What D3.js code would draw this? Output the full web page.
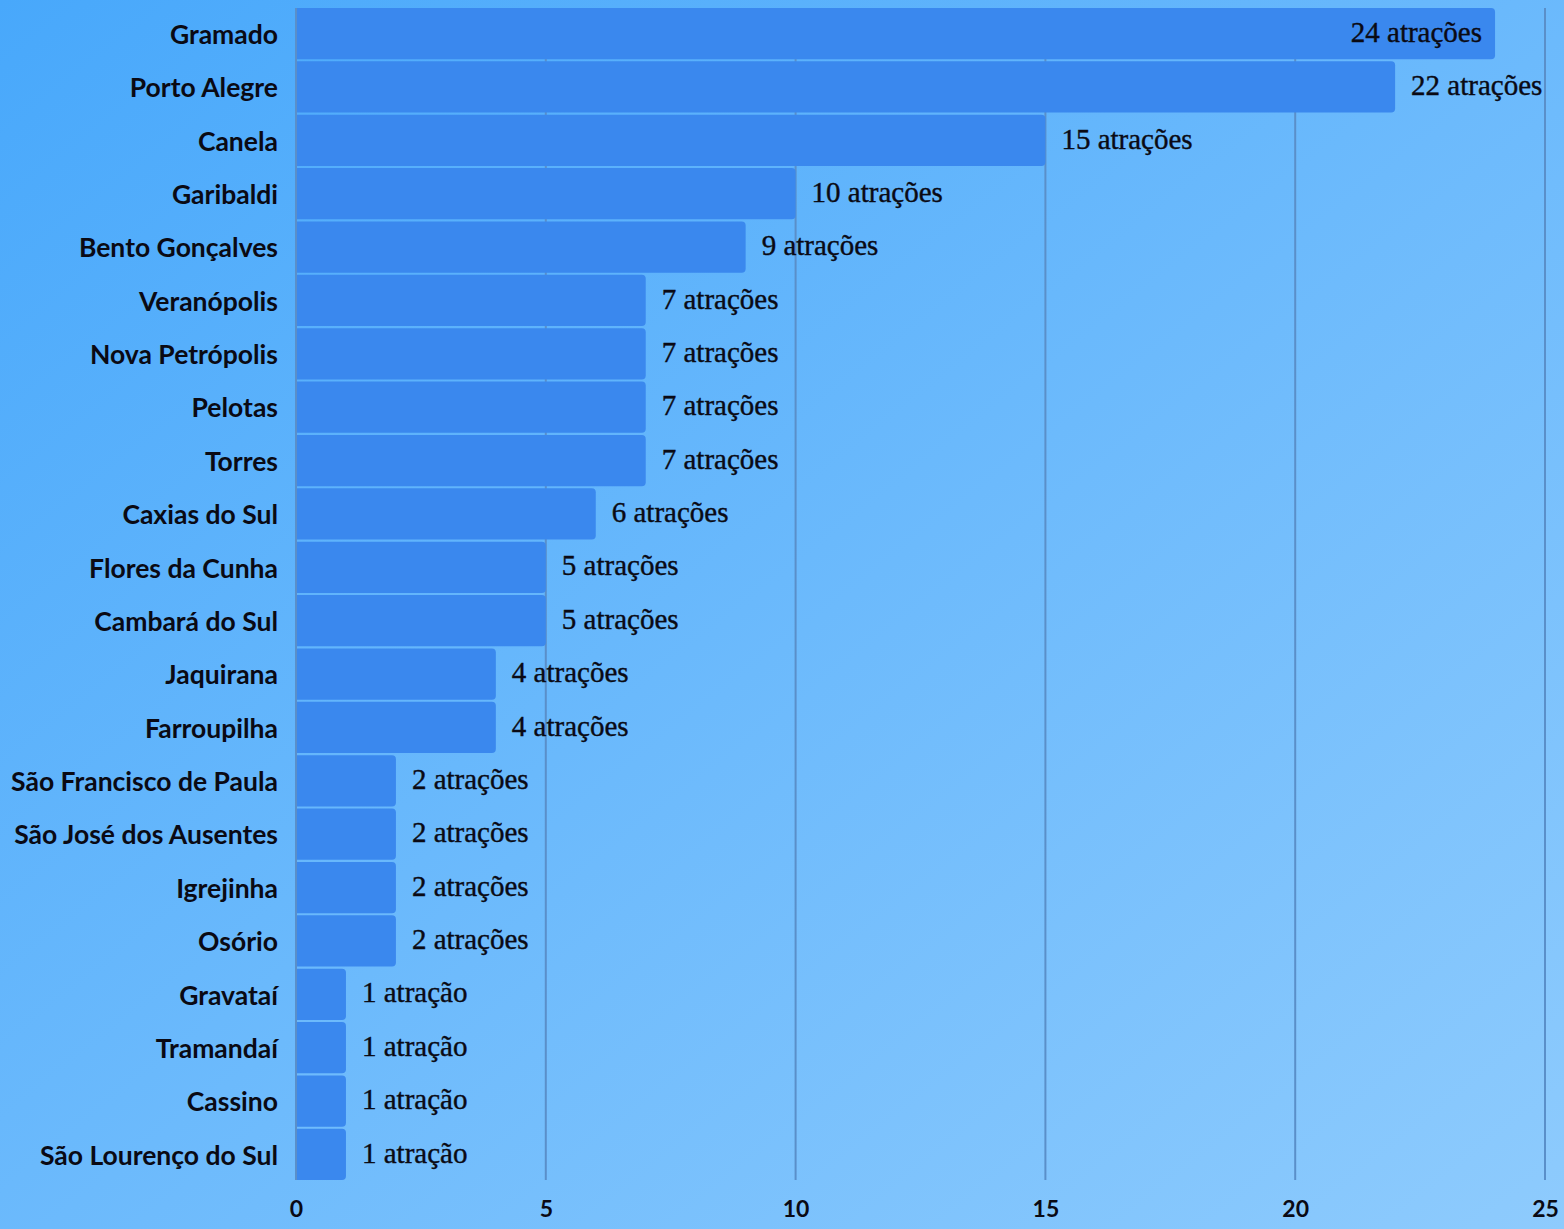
<!DOCTYPE html>
<html lang="pt-BR">
<head>
<meta charset="UTF-8">
<title>Atrações por cidade</title>
<script src="https://d3js.org/d3.v7.min.js"></script>
<style>
  html, body { margin: 0; padding: 0; }
  body { width: 1564px; height: 1229px; overflow: hidden; }
</style>
</head>
<body>
<script>
    // dados
    const cidades = ['Gramado', 'Porto Alegre', 'Canela', 'Garibaldi', 'Bento Gonçalves', 'Veranópolis',
        'Nova Petrópolis', 'Pelotas', 'Torres', 'Caxias do Sul', 'Flores da Cunha', 'Cambará do Sul',
        'Jaquirana', 'Farroupilha', 'São Francisco de Paula', 'São José dos Ausentes', 'Igrejinha',
        'Osório', 'Gravataí', 'Tramandaí', 'Cassino', 'São Lourenço do Sul'];
    const atracoes = [24, 22, 15, 10, 9, 7, 7, 7, 7, 6, 5, 5, 4, 4, 2, 2, 2, 2, 1, 1, 1, 1];
    const ticks = [0, 5, 10, 15, 20, 25];

    const W = 1564, H = 1229;
    const m = { top: 8, right: 19, bottom: 49, left: 296 };

    const svg = d3.select('body').append('svg').attr('width', W).attr('height', H);

    // fundo em gradiente
    const defs = svg.append('defs');
    const grad = defs.append('linearGradient').attr('id', 'fundo')
        .attr('x1', '0%').attr('y1', '0%').attr('x2', '100%').attr('y2', '100%');
    grad.append('stop').attr('offset', '0%').attr('stop-color', '#48a8fb');
    grad.append('stop').attr('offset', '100%').attr('stop-color', '#8ecbfd');
    svg.append('rect').attr('width', W).attr('height', H).attr('fill', 'url(#fundo)');

    const x = d3.scaleLinear().domain([0, 25]).range([m.left, W - m.right]);
    const y = d3.scaleBand().domain(cidades).range([m.top, H - m.bottom]).paddingInner(0.04).paddingOuter(0);

    // linhas de grade
    svg.append('g').selectAll('line').data(ticks).join('line')
        .attr('x1', d => x(d)).attr('x2', d => x(d))
        .attr('y1', m.top).attr('y2', H - m.bottom)
        .attr('stroke', '#5a8fc9').attr('stroke-width', 2);

    // barras com cantos arredondados à direita
    const r = 4;
    svg.append('g').selectAll('path').data(cidades).join('path')
        .attr('fill', '#3a88ee')
        .attr('d', (c, i) => {
            const x0 = x(0) + 1, x1 = x(atracoes[i]), y0 = y(c), h = y.bandwidth();
            return `M${x0},${y0}H${x1 - r}Q${x1},${y0} ${x1},${y0 + r}V${y0 + h - r}Q${x1},${y0 + h} ${x1 - r},${y0 + h}H${x0}Z`;
        });

    // rótulos das cidades
    svg.append('g').selectAll('text').data(cidades).join('text')
        .attr('x', m.left - 18)
        .attr('y', c => y(c) + y.bandwidth() / 2 + 1)
        .attr('dy', '0.35em')
        .attr('text-anchor', 'end')
        .style('font-family', 'Lato, sans-serif')
        .style('font-weight', 'bold')
        .style('font-size', '26.5px')
        .style('fill', '#0a0a14')
        .text(c => c);

    // rótulos dos valores
    svg.append('g').selectAll('text').data(cidades).join('text')
        .attr('x', (c, i) => atracoes[i] >= 24 ? x(atracoes[i]) - 13 : x(atracoes[i]) + 16)
        .attr('y', c => y(c) + y.bandwidth() / 2 - 2)
        .attr('dy', '0.35em')
        .attr('text-anchor', (c, i) => atracoes[i] >= 24 ? 'end' : 'start')
        .style('font-family', '"Liberation Serif", serif')
        .style('font-size', '29px')
        .style('fill', '#0a0a14')
        .style('stroke', '#0a0a14')
        .style('stroke-width', '0.4px')
        .text((c, i) => atracoes[i] + (atracoes[i] === 1 ? ' atração' : ' atrações'));

    // eixo x
    const eixo = svg.append('g')
        .attr('transform', `translate(0,${H - m.bottom})`)
        .call(d3.axisBottom(x).tickValues(ticks).tickSize(0).tickPadding(21));
    eixo.select('.domain').remove();
    eixo.selectAll('text')
        .style('font-family', 'Lato, sans-serif')
        .style('font-weight', 'bold')
        .style('font-size', '23px')
        .style('fill', '#0a0a14');
</script>
</body>
</html>
